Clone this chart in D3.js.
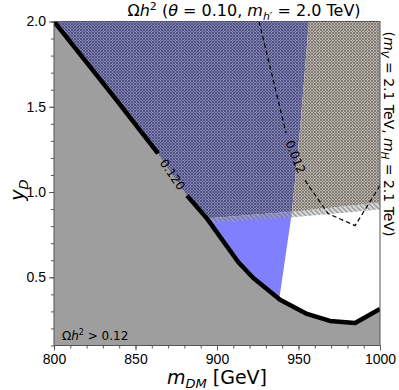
<!DOCTYPE html>
<html lang="en">
<head>
<meta charset="UTF-8">
<title>Relic density scan</title>
<script src="https://d3js.org/d3.v7.min.js"></script>
<style>
    body { margin: 0; background: #fff; }
    svg { display: block; font-family: "DejaVu Sans", sans-serif; }
    .tick-label { font-size: 14px; fill: #000; }
</style>
</head>
<body>
<svg id="chart" width="399" height="390"></svg>
<script>
// relic contour Ωh² = 0.120 (thick line), split around its label
const relicLine1 = [[800, 2.0], [838.5, 1.538], [852.8, 1.362], [863.8, 1.226]];
const relicLine2 = [[881.6, 0.979], [893.9, 0.844], [913, 0.59], [922.1, 0.497], [938.7, 0.368],
                    [955.2, 0.285], [969.3, 0.244], [984.7, 0.232], [1000, 0.315]];
// dashed contour 0.012, split around its label
const dashLine1 = [[925.8, 2.0], [942.4, 1.345]];
const dashLine2 = [[954.0, 1.068], [968.1, 0.874], [984.7, 0.803], [1000, 1.038]];
// excluded / allowed regions
const purpleRegion = [[800, 2.0], [956.4, 2.0], [950.9, 1.362], [946.0, 0.885], [880, 0.834], [800, 0.834]];
const tanRegion = [[956.4, 2.0], [1000, 2.0], [1000, 0.938], [946.0, 0.885], [950.9, 1.362]];
const blueRegion = [[880, 0.834], [946.0, 0.885], [938.2, 0.372], [880, 0.372]];
const bandRegion = [[880, 0.834], [946.0, 0.885], [1000, 0.938], [1000, 0.897], [944.8, 0.85], [880, 0.81]];
const xTicks = [800, 850, 900, 950, 1000];
const yTicks = [0.5, 1.0, 1.5, 2.0];
const xMinor = d3.range(800, 1001, 10);
const yMinor = d3.range(1, 21).map(d => d / 10);

const margin = {top: 21.5, right: 19, bottom: 44.5, left: 54};
const W = 399, H = 390;
const x = d3.scaleLinear().domain([800, 1000]).range([margin.left, W - margin.right]);
const y = d3.scaleLinear().domain([0.1, 2.0]).range([H - margin.bottom, margin.top]);

const svg = d3.select("#chart");
const defs = svg.append("defs");

function crossHatch(id, bg, fg) {
    const p = defs.append("pattern").attr("id", id)
        .attr("patternUnits", "userSpaceOnUse").attr("width", 3).attr("height", 3);
    p.append("rect").attr("width", 3).attr("height", 3).attr("fill", bg);
    p.append("path").attr("d", "M0,3 L3,0 M-1,1 L1,-1 M2,4 L4,2 M0,0 L3,3 M-1,2 L1,4 M2,-1 L4,1")
        .attr("stroke", fg).attr("stroke-width", 0.9);
}
crossHatch("hatchPurple", "#8484bc", "#4e4e78");
crossHatch("hatchTan", "#bcb5ad", "#7c766f");

const band = defs.append("pattern").attr("id", "hatchBand")
    .attr("patternUnits", "userSpaceOnUse").attr("width", 5).attr("height", 5);
band.append("rect").attr("width", 5).attr("height", 5).attr("fill", "rgba(170,170,170,0.45)");
band.append("path").attr("d", "M0,0 L5,5 M-1,4 L1,6 M4,-1 L6,1")
    .attr("stroke", "rgba(110,110,110,0.6)").attr("stroke-width", 1.4);

const clip = defs.append("clipPath").attr("id", "plotClip");
clip.append("rect").attr("x", margin.left).attr("y", margin.top)
    .attr("width", W - margin.left - margin.right).attr("height", H - margin.top - margin.bottom);

const area = d3.line().x(d => x(d[0])).y(d => y(d[1]));
const plot = svg.append("g").attr("clip-path", "url(#plotClip)");

plot.append("path").datum(purpleRegion).attr("d", d => area(d) + "Z").attr("fill", "url(#hatchPurple)");
plot.append("path").datum(tanRegion).attr("d", d => area(d) + "Z").attr("fill", "url(#hatchTan)");
plot.append("path").datum(blueRegion).attr("d", d => area(d) + "Z").attr("fill", "#8080ff");
plot.append("path").datum(bandRegion).attr("d", d => area(d) + "Z").attr("fill", "url(#hatchBand)");

// gray excluded region below the 0.120 contour
const grayRegion = relicLine1.concat(relicLine2, [[1000, 0.1], [800, 0.1]]);
plot.append("path").datum(grayRegion).attr("d", d => area(d) + "Z").attr("fill", "#9e9e9e");

[relicLine1, relicLine2].forEach(seg => {
    plot.append("path").datum(seg).attr("d", area)
        .attr("fill", "none").attr("stroke", "#000").attr("stroke-width", 4.5)
        .attr("stroke-linejoin", "round");
});
[dashLine1, dashLine2].forEach(seg => {
    plot.append("path").datum(seg).attr("d", area)
        .attr("fill", "none").attr("stroke", "#000").attr("stroke-width", 1.2)
        .attr("stroke-dasharray", "4.5,3");
});

// contour labels
function contourLabel(a, b, txt) {
    const x0 = (x(a[0]) + x(b[0])) / 2, y0 = (y(a[1]) + y(b[1])) / 2;
    const ang = Math.atan2(y(b[1]) - y(a[1]), x(b[0]) - x(a[0])) * 180 / Math.PI;
    svg.append("text").attr("transform", `translate(${x0},${y0}) rotate(${ang})`)
        .attr("text-anchor", "middle").attr("dy", "0.35em")
        .attr("font-size", 12).text(txt);
}
contourLabel(relicLine1[relicLine1.length - 1], relicLine2[0], "0.120");
contourLabel(dashLine1[dashLine1.length - 1], dashLine2[0], "0.012");

// frame
svg.append("rect").attr("x", margin.left).attr("y", margin.top)
    .attr("width", W - margin.left - margin.right).attr("height", H - margin.top - margin.bottom)
    .attr("fill", "none").attr("stroke", "#555").attr("stroke-width", 1);

// axes
const xAxis = svg.append("g").attr("transform", `translate(0,${H - margin.bottom})`);
xAxis.call(d3.axisBottom(x).tickValues(xMinor).tickSize(3).tickFormat(""));
xAxis.append("g").call(d3.axisBottom(x).tickValues(xTicks).tickSize(5).tickPadding(4).tickFormat(d3.format("d")));
const yAxis = svg.append("g").attr("transform", `translate(${margin.left},0)`);
yAxis.call(d3.axisLeft(y).tickValues(yMinor).tickSize(3).tickFormat(""));
yAxis.append("g").call(d3.axisLeft(y).tickValues(yTicks).tickSize(5).tickPadding(3).tickFormat(d3.format(".1f")));
svg.selectAll(".domain").remove();
svg.selectAll(".tick line").attr("stroke", "#555");
svg.selectAll(".tick text").attr("class", "tick-label").attr("font-family", null).attr("font-size", 14);

// axis labels
const xl = svg.append("text").attr("x", 217).attr("y", 384).attr("text-anchor", "middle").attr("font-size", 19);
xl.append("tspan").attr("font-style", "italic").text("m");
xl.append("tspan").attr("font-style", "italic").attr("font-size", 13).attr("dy", 4).text("DM");
xl.append("tspan").attr("dy", -4).text(" [GeV]");

const yl = svg.append("text").attr("transform", "translate(24,190) rotate(-90)")
    .attr("text-anchor", "middle").attr("font-size", 19);
yl.append("tspan").attr("font-style", "italic").text("y");
yl.append("tspan").attr("font-style", "italic").attr("font-size", 13).attr("dy", 4).text("D");

// title
const t = svg.append("text").attr("x", 244).attr("y", 16).attr("text-anchor", "middle").attr("font-size", 16);
t.append("tspan").text("Ω");
t.append("tspan").attr("font-style", "italic").text("h");
t.append("tspan").attr("font-size", 11).attr("dy", -6).text("2");
t.append("tspan").attr("dy", 6).text(" (");
t.append("tspan").attr("font-style", "italic").text("θ");
t.append("tspan").text(" = 0.10, ");
t.append("tspan").attr("font-style", "italic").text("m");
t.append("tspan").attr("font-style", "italic").attr("font-size", 11).attr("dy", 4).text("h′");
t.append("tspan").attr("dy", -4).text(" =  2.0 TeV)");

// right-side annotation
const r = svg.append("text").attr("transform", "translate(384,134) rotate(90)")
    .attr("text-anchor", "middle").attr("font-size", 14);
r.append("tspan").text("(");
r.append("tspan").attr("font-style", "italic").text("m");
r.append("tspan").attr("font-style", "italic").attr("font-size", 10).attr("dy", 3).text("V");
r.append("tspan").attr("dy", -3).text(" = 2.1 TeV, ");
r.append("tspan").attr("font-style", "italic").text("m");
r.append("tspan").attr("font-style", "italic").attr("font-size", 10).attr("dy", 3).text("H");
r.append("tspan").attr("dy", -3).text(" = 2.1 TeV)");

// region label
const g = svg.append("text").attr("x", 62).attr("y", 340).attr("font-size", 12);
g.append("tspan").text("Ω");
g.append("tspan").attr("font-style", "italic").text("h");
g.append("tspan").attr("font-size", 8).attr("dy", -5).text("2");
g.append("tspan").attr("dy", 5).text(" > 0.12");
</script>
</body>
</html>
